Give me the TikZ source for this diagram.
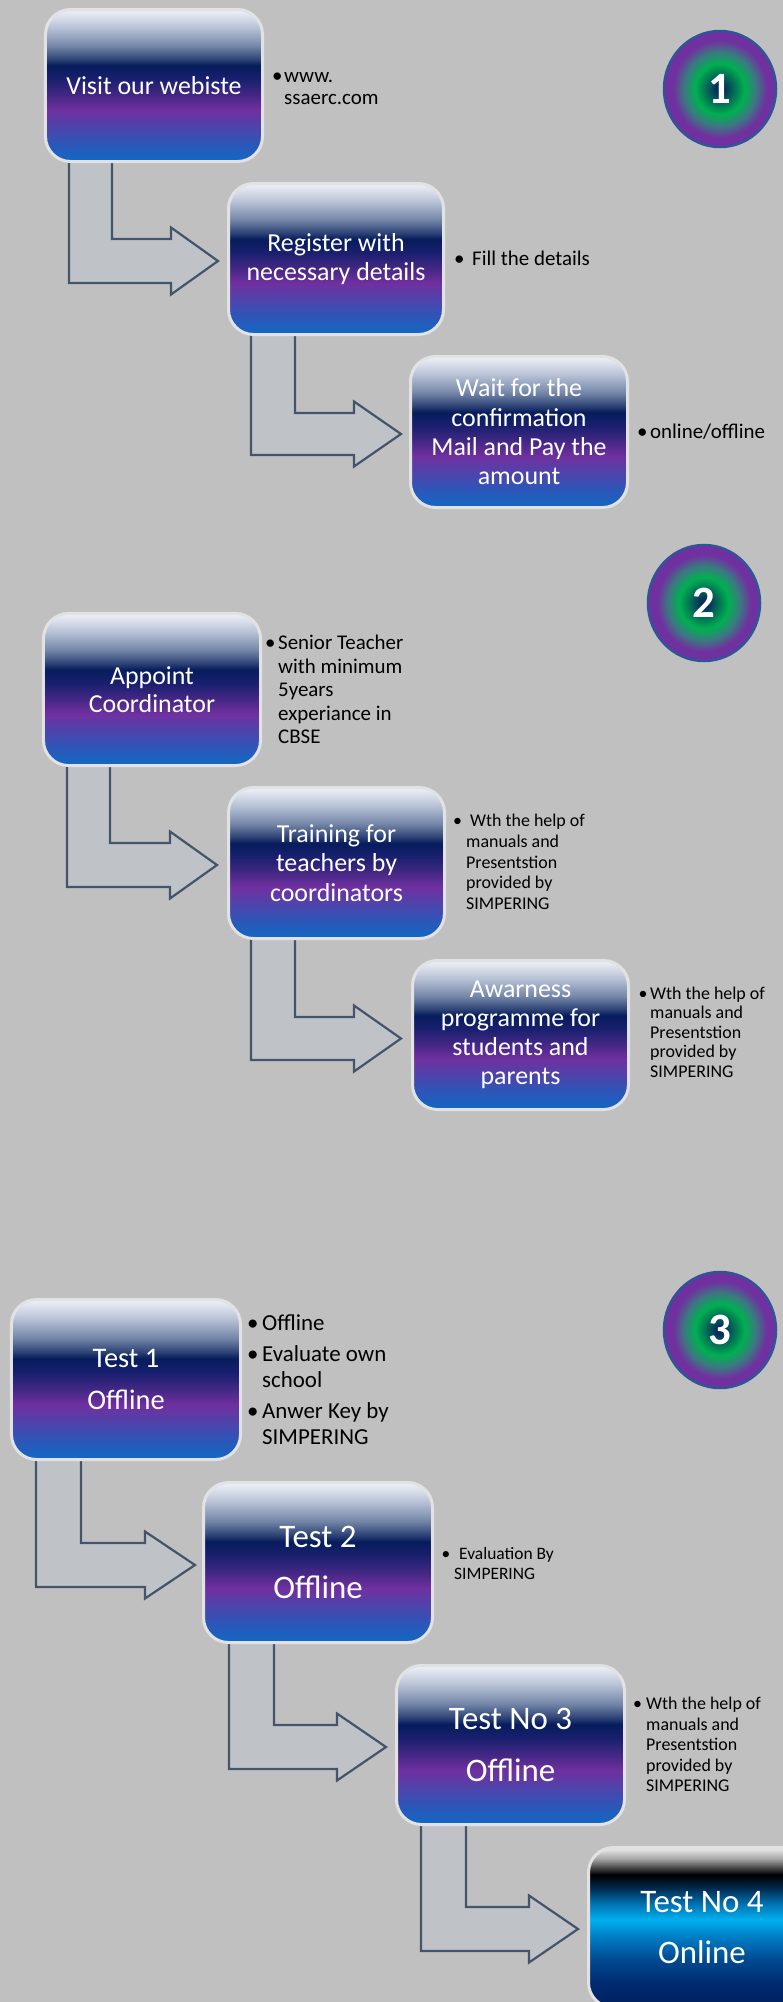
\documentclass[tikz,border=0pt]{standalone}
\usepackage{fontspec}
\setmainfont{Carlito}
\usetikzlibrary{shapes.geometric}

\definecolor{bgc}{RGB}{192,192,192}
\definecolor{arrfill}{RGB}{191,195,200}
\definecolor{arrline}{HTML}{44546A}
\definecolor{boxline}{RGB}{226,226,228}
\definecolor{circline}{HTML}{2F5597}
% purple box shading colours
\definecolor{s0}{HTML}{F0F2F8}
\definecolor{s1}{HTML}{B8C2D6}
\definecolor{s2}{HTML}{7486A8}
\definecolor{s3}{HTML}{34497A}
\definecolor{s4}{HTML}{061C5C}
\definecolor{s5}{HTML}{1A2070}
\definecolor{s6}{HTML}{432784}
\definecolor{s7}{HTML}{7030A0}
\definecolor{s8}{HTML}{5142AA}
\definecolor{s9}{HTML}{2D56B8}
\definecolor{s10}{HTML}{1068C4}
% cyan box shading colours
\definecolor{k0}{HTML}{EEEEEE}
\definecolor{k1}{HTML}{A6A6A6}
\definecolor{k2}{HTML}{404040}
\definecolor{k3}{HTML}{000000}
\definecolor{k4}{HTML}{00284A}
\definecolor{k5}{HTML}{0070B0}
\definecolor{k6}{HTML}{00B0F0}
\definecolor{k7}{HTML}{0080C8}
\definecolor{k8}{HTML}{004A90}
\definecolor{k9}{HTML}{002A70}
\definecolor{k10}{HTML}{002060}
% circle colours
\definecolor{c0}{HTML}{05305A}
\definecolor{c1}{HTML}{00B050}
\definecolor{c2}{HTML}{3A7A80}
\definecolor{c3}{HTML}{7030A0}

\pgfdeclareverticalshading{boxsh}{100bp}{color(0bp)=(s10); color(25bp)=(s10); color(31bp)=(s9); color(37bp)=(s8); color(42bp)=(s7); color(47bp)=(s6); color(52bp)=(s5); color(56.5bp)=(s4); color(59bp)=(s3); color(63bp)=(s2); color(69bp)=(s1); color(75bp)=(s0); color(100bp)=(s0)}
\pgfdeclareverticalshading{cyansh}{100bp}{color(0bp)=(k10); color(25bp)=(k10); color(32.5bp)=(k9); color(40bp)=(k8); color(47.5bp)=(k7); color(52.5bp)=(k6); color(57.5bp)=(k5); color(62.5bp)=(k4); color(66.5bp)=(k3); color(68.5bp)=(k2); color(71.5bp)=(k1); color(75bp)=(k0); color(100bp)=(k0)}
\pgfdeclareradialshading{circsh}{\pgfpointorigin}{color(0bp)=(c0); color(2bp)=(c0); color(11bp)=(c1); color(16bp)=(c2); color(21bp)=(c3); color(25bp)=(c3); color(50bp)=(c3)}

\newcommand\bul[1]{\makebox[#1][l]{•}}
\newcommand\bentarrow[7]{%
  \draw[arrsty] (#1,#3) -- (#1,#5) -- (#6,#5) -- (#6,#5+11.5) -- (#7,{(#4+#5)/2}) -- (#6,#4-11.5) -- (#6,#4) -- (#2,#4) -- (#2,#3);}

\tikzset{
  arrsty/.style={fill=arrfill, draw=arrline, line width=2.2bp, line join=miter},
  stepbox/.style={rectangle, rounded corners=25bp, shading=boxsh, draw=boxline, line width=3bp,
    text=white, align=center, inner sep=0pt, font=\fontsize{26}{29.5}\selectfont},
  testbox/.style={stepbox, font=\fontsize{33}{52}\selectfont, minimum width=229bp, minimum height=160bp},
  numcirc/.style={ellipse, minimum width=112bp, minimum height=116bp, inner sep=0pt, shading=circsh,
    draw=circline, line width=2.5bp, text=white, font=\fontsize{45}{45}\selectfont\bfseries},
  notea/.style={inner sep=0pt, anchor=base west, font=\fontsize{21}{23}\selectfont},
  noteb/.style={inner sep=0pt, anchor=base west, font=\fontsize{18}{20}\selectfont},
  notec/.style={inner sep=0pt, anchor=base west, font=\fontsize{23}{26}\selectfont},
  noted/.style={inner sep=0pt, anchor=base west, font=\fontsize{17.5}{20}\selectfont},
}

\begin{document}
\begin{tikzpicture}[x=1bp, y=-1bp]
\useasboundingbox (0,0) rectangle (783,2002);
\begin{scope}
\clip (0,0) rectangle (783,2002);
\fill[bgc] (0,0) rectangle (783,2002);

% ---------- arrows (behind boxes) ----------
\bentarrow{69}{112}{160}{239}{283}{171}{218}
\bentarrow{251}{295}{333}{413}{455}{354}{401}
\bentarrow{67}{110}{764}{843}{887}{170}{217}
\bentarrow{251}{295}{937}{1017}{1060}{354}{401}
\bentarrow{36}{81}{1458}{1543}{1587}{145}{195}
\bentarrow{229}{274}{1641}{1725}{1769}{337}{386}
\bentarrow{421}{466}{1823}{1907}{1951}{529}{578}

% ---------- section 1 ----------
\node[stepbox, minimum width=217bp, minimum height=152bp] (b1) at (154,85.5) {Visit our webiste};
\node[stepbox, minimum width=215bp, minimum height=151bp] (b2) at (336,259) {Register with\\necessary details};
\node[stepbox, minimum width=217bp, minimum height=151bp] (b3) at (519,432) {Wait for the\\confirmation\\Mail and Pay the\\amount};
\node[numcirc] (c1) at (720,89) {1};

\node[notea] (n1a) at (272,82) {\bul{12bp}www.};
\node[notea] (n1b) at (284,104) {ssaerc.com};
\node[notea] (n1c) at (454,265) {\bul{18bp}Fill the details};
\node[notea] (n1d) at (637,438) {\bul{13bp}online/offline};

% ---------- section 2 ----------
\node[stepbox, minimum width=217bp, minimum height=152bp, font=\fontsize{26}{28}\selectfont] (b4) at (152,689.5) {Appoint\\Coordinator};
\node[stepbox, minimum width=216bp, minimum height=151bp] (b5) at (336.5,863) {Training for\\teachers by\\coordinators};
\node[stepbox, minimum width=216bp, minimum height=149bp, font=\fontsize{26}{29}\selectfont] (b6) at (520.5,1035) {Awarness\\programme for\\students and\\parents};
\node[numcirc] (c2) at (704,603) {2};

\node[notea] (n2a) at (265,649) {\bul{13bp}Senior Teacher};
\node[notea] (n2b) at (278,673) {with minimum};
\node[notea] (n2c) at (278,696) {5years};
\node[notea] (n2d) at (278,720) {experiance in};
\node[notea] (n2e) at (278,743) {CBSE};

\node[noteb] (n3a) at (453,826) {\bul{17bp}Wth the help of};
\node[noteb] (n3b) at (466,847.5) {manuals and};
\node[noteb] (n3c) at (466,868) {Presentstion};
\node[noteb] (n3d) at (466,888.5) {provided by};
\node[noteb] (n3e) at (466,909) {SIMPERING};

\node[noteb] (n4a) at (638.5,999) {\bul{11.5bp}Wth the help of};
\node[noteb] (n4b) at (650,1018.5) {manuals and};
\node[noteb] (n4c) at (650,1038) {Presentstion};
\node[noteb] (n4d) at (650,1057.5) {provided by};
\node[noteb] (n4e) at (650,1077) {SIMPERING};

% ---------- section 3 ----------
\node[testbox, font=\fontsize{28.5}{43}\selectfont] (b7) at (126,1379.5) {Test 1\\Offline};
\node[testbox] (b8) at (318,1562.5) {Test 2\\Offline};
\node[testbox, minimum width=228bp, minimum height=159bp] (b9) at (510.5,1745) {Test No 3\\Offline};
\node[testbox, shading=cyansh, minimum width=227bp] (b10) at (702,1927.5) {Test No 4\\Online};
\node[numcirc] (c3) at (720,1330) {3};

\node[notec] (n5a) at (247,1330) {\bul{15bp}Offline};
\node[notec] (n5b) at (247,1361) {\bul{15bp}Evaluate own};
\node[notec] (n5c) at (262,1387) {school};
\node[notec] (n5d) at (247,1418) {\bul{15bp}Anwer Key by};
\node[notec] (n5e) at (262,1444) {SIMPERING};

\node[noted] (n6a) at (441.5,1559) {\bul{17.5bp}Evaluation By};
\node[noted] (n6b) at (454,1579) {SIMPERING};

\node[noteb] (n7a) at (633,1709.5) {\bul{13bp}Wth the help of};
\node[noteb] (n7b) at (646,1730) {manuals and};
\node[noteb] (n7c) at (646,1750.5) {Presentstion};
\node[noteb] (n7d) at (646,1771) {provided by};
\node[noteb] (n7e) at (646,1791.5) {SIMPERING};
\end{scope}
\end{tikzpicture}
\end{document}
